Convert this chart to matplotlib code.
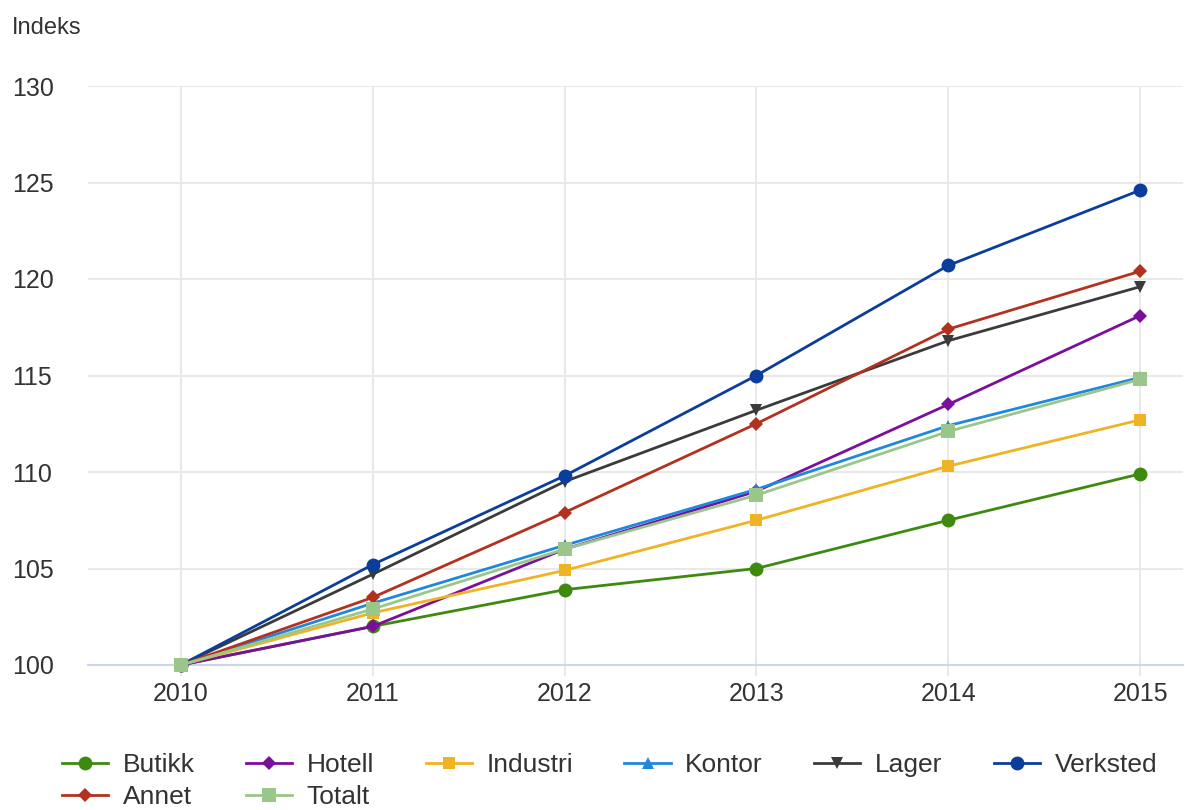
import matplotlib.pyplot as plt

plt.rcParams['font.family'] = ['Liberation Sans', 'DejaVu Sans']

years = [2010, 2011, 2012, 2013, 2014, 2015]

butikk = [100, 102.0, 103.9, 105.0, 107.5, 109.9]
hotell = [100, 102.0, 106.0, 109.0, 113.5, 118.1]
industri = [100, 102.7, 104.9, 107.5, 110.3, 112.7]
kontor = [100, 103.2, 106.2, 109.1, 112.4, 114.9]
lager = [100, 104.7, 109.5, 113.2, 116.8, 119.6]
verksted = [100, 105.2, 109.8, 115.0, 120.7, 124.6]
annet = [100, 103.5, 107.9, 112.5, 117.4, 120.4]
totalt = [100, 102.9, 106.0, 108.8, 112.1, 114.8]

series = [
    ("Butikk", butikk, "#3e8a0f", "o", 10),
    ("Hotell", hotell, "#7a0f9c", "D", 7),
    ("Industri", industri, "#f0b323", "s", 9),
    ("Kontor", kontor, "#1f88dd", "^", 8),
    ("Lager", lager, "#3b3b3b", "v", 8),
    ("Verksted", verksted, "#0b3d9c", "o", 10),
    ("Annet", annet, "#b3311f", "D", 7),
    ("Totalt", totalt, "#9bc689", "s", 10),
]

fig = plt.figure(figsize=(11.85, 8.10), dpi=100)
ax = fig.add_axes([88 / 1185, 1 - 665 / 810, 1 - 88 / 1185 - 2 / 1185, (665 - 86) / 810])

handles = {}
for name, vals, color, marker, ms in series:
    ln, = ax.plot(years, vals, color=color, lw=2.0, marker=marker, markersize=ms,
                  markeredgewidth=0, label=name, clip_on=False, zorder=3)
    handles[name] = ln

ax.set_xlim(2010 - 93 / 192.2, 2015 + 43 / 192.2)
ax.set_ylim(100, 130)
ax.set_xticks(years)
ax.set_yticks([100, 105, 110, 115, 120, 125, 130])
ax.grid(True, color="#e9e9e9", lw=1.5)
ax.set_axisbelow(True)
for s in ["top", "right", "left"]:
    ax.spines[s].set_visible(False)
ax.spines["bottom"].set_color("#ccd6eb")
ax.spines["bottom"].set_linewidth(1.5)
ax.tick_params(axis="x", length=8, color="#e9e9e9", width=1.5, labelsize=18,
               labelcolor="#333333", pad=4)
ax.tick_params(axis="y", length=0, labelsize=18, labelcolor="#333333", pad=54.5)
for lab in ax.get_yticklabels():
    lab.set_horizontalalignment("left")

fig.text(12 / 1185, 1 - 28 / 810, "Indeks", fontsize=17, color="#333333", va="center")

order = ["Butikk", "Annet", "Hotell", "Totalt", "Industri", "Kontor", "Lager", "Verksted"]
fig.legend([handles[n] for n in order], order, ncol=6, loc="upper left",
           bbox_to_anchor=(62 / 1185, 1 - 753 / 810), frameon=False, fontsize=19,
           handlelength=1.75, handletextpad=0.55, columnspacing=1.95, labelspacing=0.3,
           labelcolor="#333333", borderpad=0, borderaxespad=0)

fig.savefig("out.png", dpi=100)
